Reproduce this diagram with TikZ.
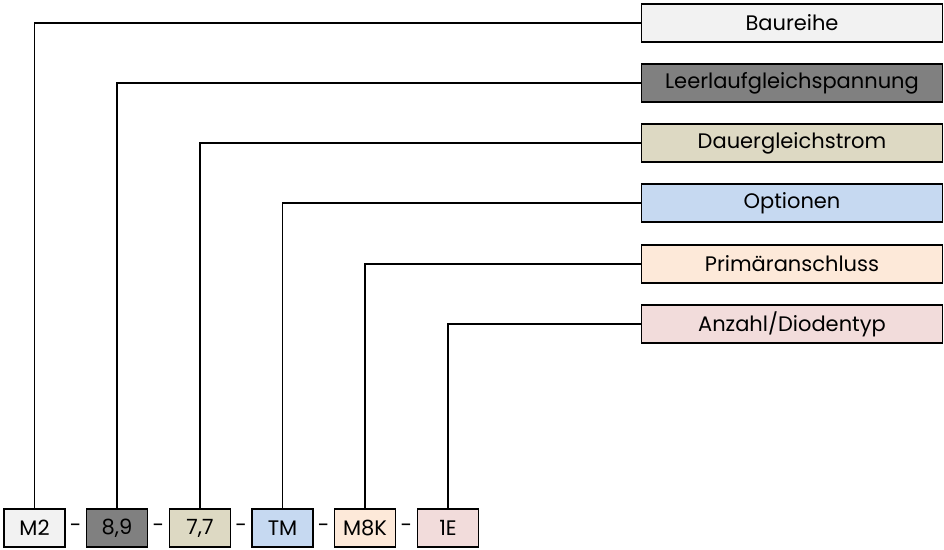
\documentclass[tikz,border=0pt]{standalone}
\usepackage{fontspec}
\setmainfont{Poppins}
\usetikzlibrary{positioning,calc}

\definecolor{cBau}{HTML}{F2F2F2}
\definecolor{cLeer}{HTML}{808080}
\definecolor{cDauer}{HTML}{DDD9C3}
\definecolor{cOpt}{HTML}{C6D9F1}
\definecolor{cPrim}{HTML}{FDE9D9}
\definecolor{cAnz}{HTML}{F2DCDB}

\begin{document}
\begin{tikzpicture}[x=1pt,y=-1pt,font=\fontsize{21}{24}\selectfont]
\tikzstyle{every node}+=[inner sep=0pt]
\tikzstyle{namebox}=[draw=black,line width=1.3pt,minimum width=301pt,minimum height=38pt]
\tikzstyle{codebox}=[draw=black,line width=1.3pt,minimum width=61pt,minimum height=38pt]
\tikzstyle{link}=[black,line width=1.3pt]
\useasboundingbox (0,0) rectangle (944,549);
% name boxes on the right
\node [namebox,fill=cBau] (baureihe) at (792,23) {Baureihe};
\node [namebox,fill=cLeer] (leerlauf) at (792,83) {Leerlaufgleichspannung};
\node [namebox,fill=cDauer] (dauer) at (792,143) {Dauergleichstrom};
\node [namebox,fill=cOpt] (optionen) at (792,203) {Optionen};
\node [namebox,fill=cPrim] (primaer) at (792,264) {Primäranschluss};
\node [namebox,fill=cAnz] (anzahl) at (792,324) {Anzahl/Diodentyp};
% code boxes at the bottom
\node [codebox,fill=cBau] (m2) at (34.5,528) {M2};
\node [codebox,fill=cLeer] (u89) at (117,528) {8,9};
\node [codebox,fill=cDauer] (i77) at (200,528) {7,7};
\node [codebox,fill=cOpt] (tm) at (282.5,528) {TM};
\node [codebox,fill=cPrim] (m8k) at (365,528) {M8K};
\node [codebox,fill=cAnz] (e1) at (448,528) {1E};
\node (d1) at ($(m2)!0.5!(u89)$) {-};
\node (d2) at ($(u89)!0.5!(i77)$) {-};
\node (d3) at ($(i77)!0.5!(tm)$) {-};
\node (d4) at ($(tm)!0.5!(m8k)$) {-};
\node (d5) at ($(m8k)!0.5!(e1)$) {-};
% connectors
\draw [link] (m2.north) |- (baureihe.west);
\draw [link] (u89.north) |- (leerlauf.west);
\draw [link] (i77.north) |- (dauer.west);
\draw [link] (tm.north) |- (optionen.west);
\draw [link] (m8k.north) |- (primaer.west);
\draw [link] (e1.north) |- (anzahl.west);
\end{tikzpicture}
\end{document}
